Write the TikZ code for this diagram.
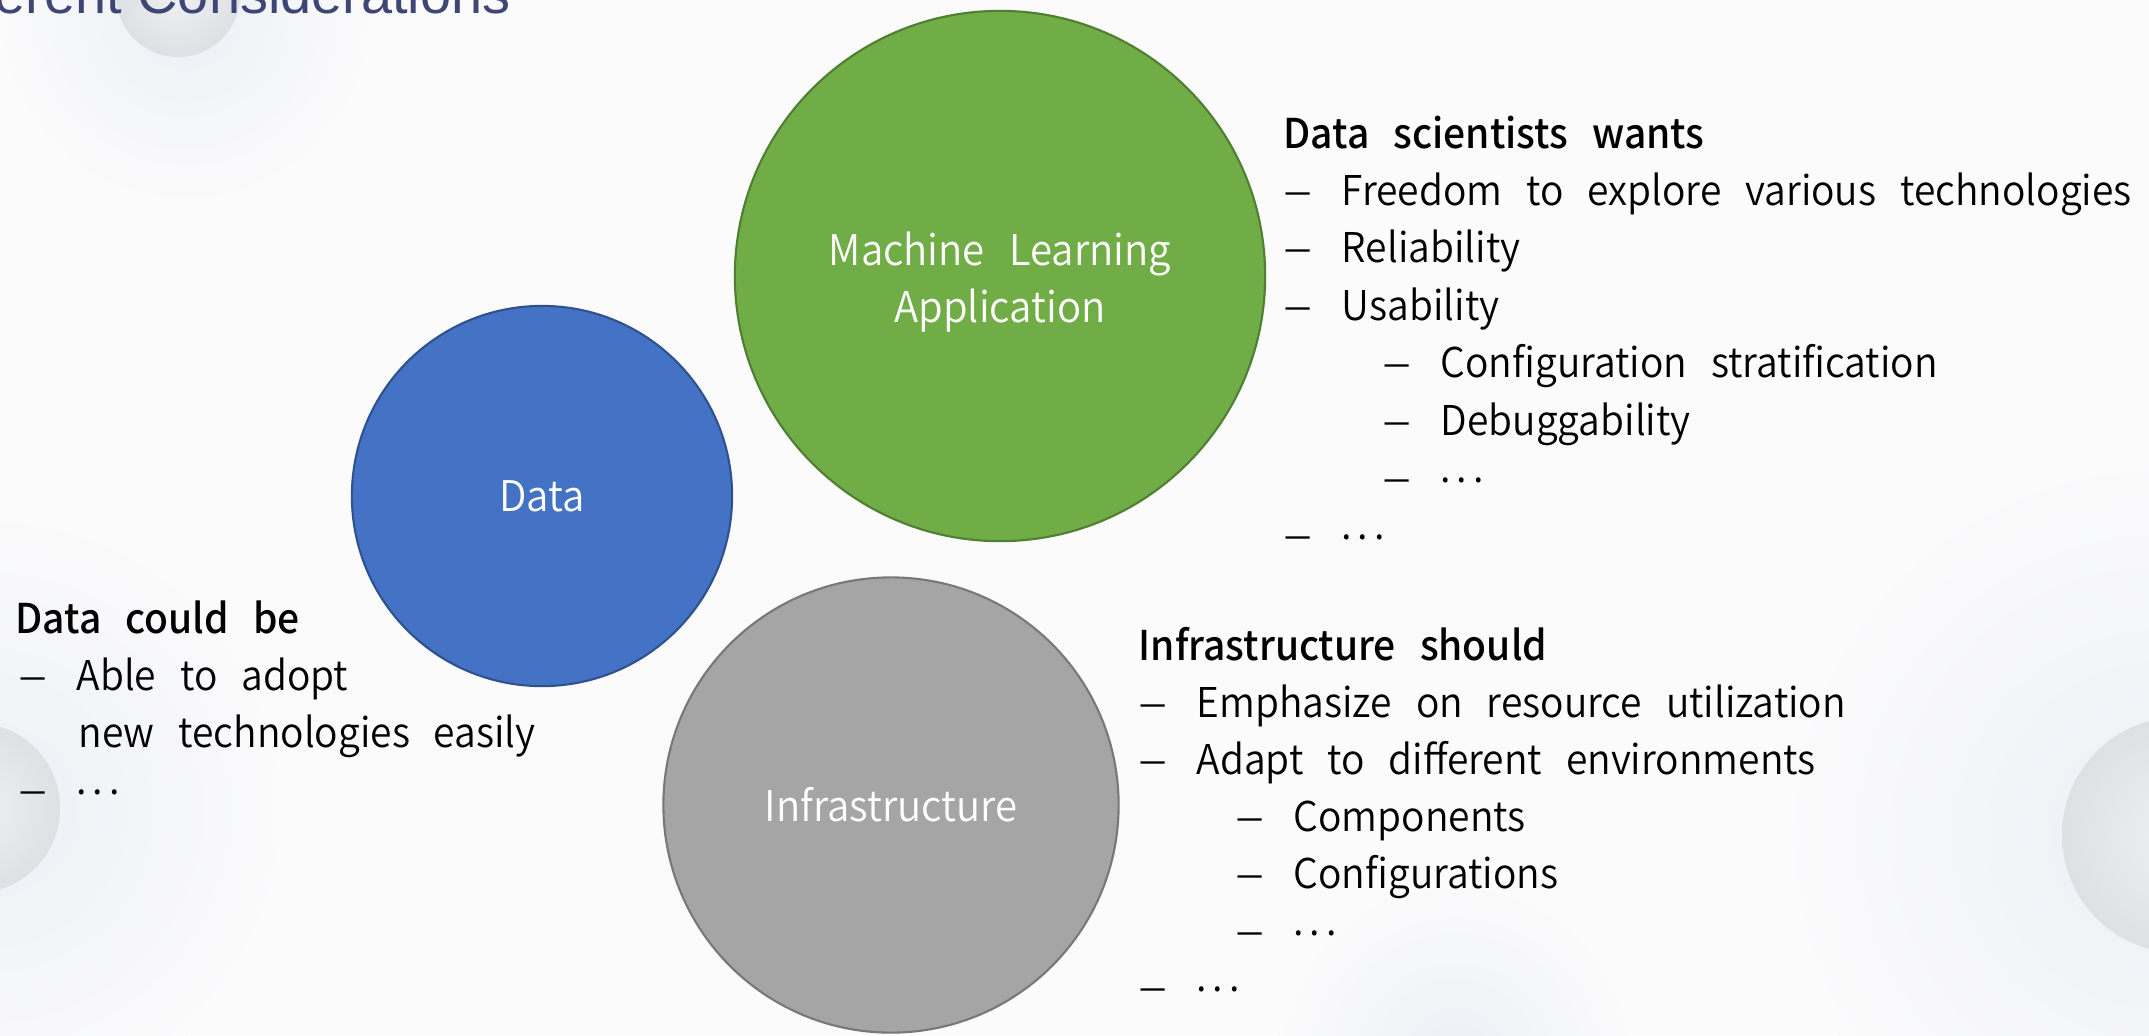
\documentclass[tikz,border=0pt]{standalone}
\usepackage{fontspec}
\usepackage{tikz}
\newfontfamily\krfont{Noto Sans CJK KR Medium}[WordSpace=2.75, FakeStretch=0.95]
\newfontfamily\krlight{Noto Sans CJK KR DemiLight}[WordSpace=2.75, FakeStretch=0.95]
\newfontfamily\titlefont{Liberation Sans}
\definecolor{pagebg}{HTML}{FBFBFC}
\definecolor{haloblue}{HTML}{EDEFF5}
\definecolor{spherelight}{HTML}{EFF0F3}
\definecolor{spheredark}{HTML}{DEE0E4}
\definecolor{titleblue}{HTML}{3E4676}
\definecolor{mlgreen}{HTML}{70AD47}
\definecolor{mlgreenline}{HTML}{507E32}
\definecolor{datablue}{HTML}{4472C4}
\definecolor{datablueline}{HTML}{2F528F}
\definecolor{infragray}{HTML}{A5A5A5}
\definecolor{infragrayline}{HTML}{787878}
\newcommand{\itemdash}{\makebox[0.58cm][l]{\scalebox{1.4}[1]{–}}}
\newcommand{\middots}{\raisebox{0.24em}{.\kern0.14em.\kern0.14em.}}
\tikzstyle{bubble}=[circle, draw, line width=0.6pt, inner sep=0, text=white, align=center,
                    font=\krlight\fontsize{12}{16}\selectfont]
\tikzstyle{listline}=[anchor=base west, inner sep=0, text=black,
                      font=\krlight\fontsize{11.66}{16.36}\selectfont]
\tikzstyle{listhead}=[listline, font=\krfont\fontsize{11.66}{16.36}\selectfont]

\begin{document}
\begin{tikzpicture}[x=0.01cm, y=-0.01cm]
    \useasboundingbox (0,0) rectangle (2149,1035);
    \clip (0,0) rectangle (2149,1035);
    \fill[pagebg] (0,0) rectangle (2149,1035);
    % soft spheres of the slide background
    \shade[inner color=haloblue, outer color=pagebg] (185,15) circle (190);
    \shade[inner color=spherelight, outer color=spheredark] (178,-5) circle (62);
    \shade[inner color=haloblue, outer color=pagebg] (-10,810) circle (300);
    \shade[inner color=spherelight, outer color=spheredark] (-25,808) circle (85);
    \shade[inner color=haloblue, outer color=pagebg] (2160,835) circle (380);
    \shade[inner color=spherelight, outer color=spheredark] (2180,835) circle (118);
    \shade[inner color=haloblue, outer color=pagebg] (1455,1060) circle (180);

    \node[anchor=base west, inner sep=0, text=titleblue, font=\titlefont\fontsize{15.9}{19}\selectfont]
        (title) at (-6,13) {erent Considerations};

    \node[bubble, fill=mlgreen, draw=mlgreenline, minimum size=5.3cm] (mlapp) at (1000,276) {};
    \node[bubble, draw=none] (mltext) at ([yshift=-0.06cm]mlapp.center) {Machine Learning\\Application};
    \node[bubble, fill=datablue, draw=datablueline, minimum size=3.8cm] (data) at (542,496) {Data};
    \node[bubble, fill=infragray, draw=infragrayline, minimum size=4.55cm] (infra) at (891,805)
        {Infrastructure};

    % what the data scientists want
    \node[listhead] (mlhead) at (1283,148) {Data scientists wants};
    \node[listline] (ml1) at (1283,205) {\itemdash Freedom to explore various technologies};
    \node[listline] (ml2) at (1283,262.5) {\itemdash Reliability};
    \node[listline] (ml3) at (1283,320) {\itemdash Usability};
    \node[listline] (ml31) at (1382,377.5) {\itemdash Configuration stratification};
    \node[listline] (ml32) at (1382,435) {\itemdash Debuggability};
    \node[listline] (ml33) at (1382,492.5) {\itemdash \middots};
    \node[listline] (ml4) at (1283,549) {\itemdash \middots};

    % what the infrastructure should do
    \node[listhead] (infrahead) at (1138,660) {Infrastructure should};
    \node[listline] (infra1) at (1138,717) {\itemdash Emphasize on resource utilization};
    \node[listline] (infra2) at (1138,774) {\itemdash Adapt to different environments};
    \node[listline] (infra21) at (1235,831) {\itemdash Components};
    \node[listline] (infra22) at (1235,888) {\itemdash Configurations};
    \node[listline] (infra23) at (1235,945) {\itemdash \middots};
    \node[listline] (infra3) at (1138,1001) {\itemdash \middots};

    % what the data could be
    \node[listhead] (datahead) at (15,633) {Data could be};
    \node[listline] (data1) at (18,690) {\itemdash Able to adopt};
    \node[listline] (data1b) at (78,747) {new technologies easily};
    \node[listline] (data2) at (18,804) {\itemdash \middots};
\end{tikzpicture}
\end{document}
